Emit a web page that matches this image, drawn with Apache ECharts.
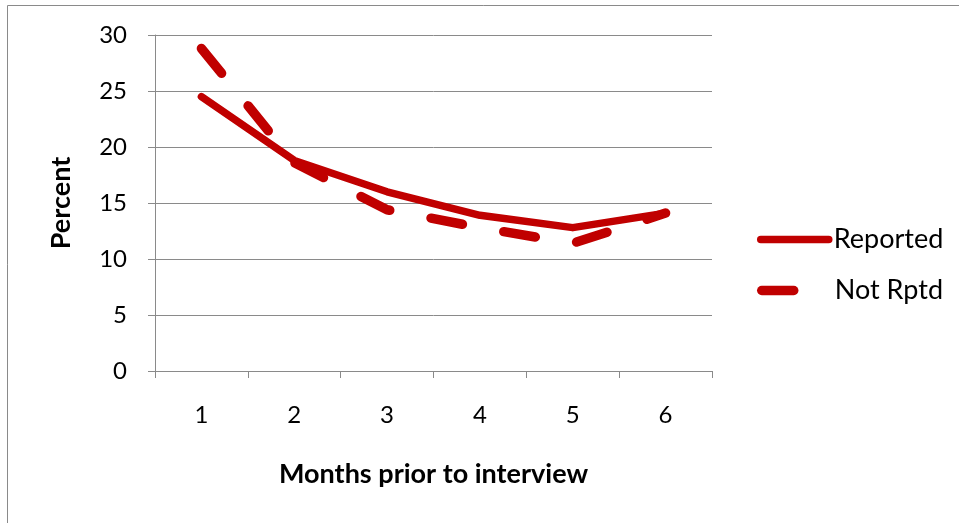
<!DOCTYPE html>
<html>
<head>
<meta charset="utf-8">
<script src="https://cdn.jsdelivr.net/npm/echarts@6/dist/echarts.min.js"></script>
<style>
  html, body { margin: 0; padding: 0; background: #fff; }
  #chart { width: 959px; height: 523px; }
</style>
</head>
<body>
<div id="chart"></div>
<script>
// Months before the interview
const months = ['1', '2', '3', '4', '5', '6'];
// Percent of events, by whether they were reported
const reported = [24.5, 18.8, 16.0, 13.9, 12.8, 14.1];
const notRptd = [28.8, 18.6, 14.4, 12.8, 11.4, 14.1];
// Value axis range
const yMin = 0, yMax = 30, yStep = 5;

const red = '#C00000';
const gray = '#8a8a8a';
const font = 'Lato, "Open Sans", sans-serif';

// Legend entry: thick line icon, no symbol marker
function legendFor(name, top, width) {
  return {
    data: [name],
    left: 757, top: top,
    padding: 0,
    itemWidth: 68, itemHeight: 14,
    itemStyle: { color: 'rgba(0,0,0,0)', borderWidth: 0 },
    lineStyle: { width: width, cap: 'round' },
    textStyle: { fontFamily: font, fontSize: 27, color: '#000' }
  };
}

const chart = echarts.init(document.getElementById('chart'), null, { renderer: 'canvas' });

chart.setOption({
  animation: false,
  backgroundColor: '#fff',
  graphic: [{
    type: 'rect',
    left: 5, top: 3,
    shape: { x: 0, y: 0, width: 1000, height: 600 },
    style: { fill: 'none', stroke: gray, lineWidth: 1 },
    silent: true
  }],
  grid: { left: 155, top: 35, right: 247, bottom: 152 },
  legend: [
    legendFor('Reported', 226, 7.5),
    legendFor('Not Rptd', 277, 9.5)
  ],
  xAxis: {
    type: 'category',
    data: months,
    boundaryGap: true,
    name: 'Months prior to interview',
    nameLocation: 'middle',
    nameGap: 90,
    nameTextStyle: { fontFamily: font, fontSize: 27, fontWeight: 'bold', color: '#000' },
    axisLine: { lineStyle: { color: gray, width: 1 } },
    axisTick: { show: true, length: 7, lineStyle: { color: gray } },
    axisLabel: { margin: 32, fontFamily: font, fontSize: 24, color: '#000' },
    splitLine: { show: false }
  },
  yAxis: {
    type: 'value',
    min: yMin, max: yMax, interval: yStep,
    name: 'Percent',
    nameLocation: 'middle',
    nameGap: 80,
    nameRotate: 90,
    nameTextStyle: { fontFamily: font, fontSize: 27, fontWeight: 'bold', color: '#000' },
    axisLine: { show: true, lineStyle: { color: gray, width: 1 } },
    axisTick: { show: true, length: 7, lineStyle: { color: gray } },
    axisLabel: { margin: 28, fontFamily: font, fontSize: 24, color: '#000' },
    splitLine: { show: true, lineStyle: { color: gray, width: 1 } }
  },
  series: [
    {
      name: 'Reported',
      type: 'line',
      data: reported,
      symbol: 'none',
      color: red,
      lineStyle: { color: red, width: 7.5, cap: 'round', join: 'round' }
    },
    {
      name: 'Not Rptd',
      type: 'line',
      data: notRptd,
      symbol: 'none',
      color: red,
      lineStyle: { color: red, width: 9.5, type: [32, 42], cap: 'round', join: 'round' }
    }
  ]
});
</script>
</body>
</html>
